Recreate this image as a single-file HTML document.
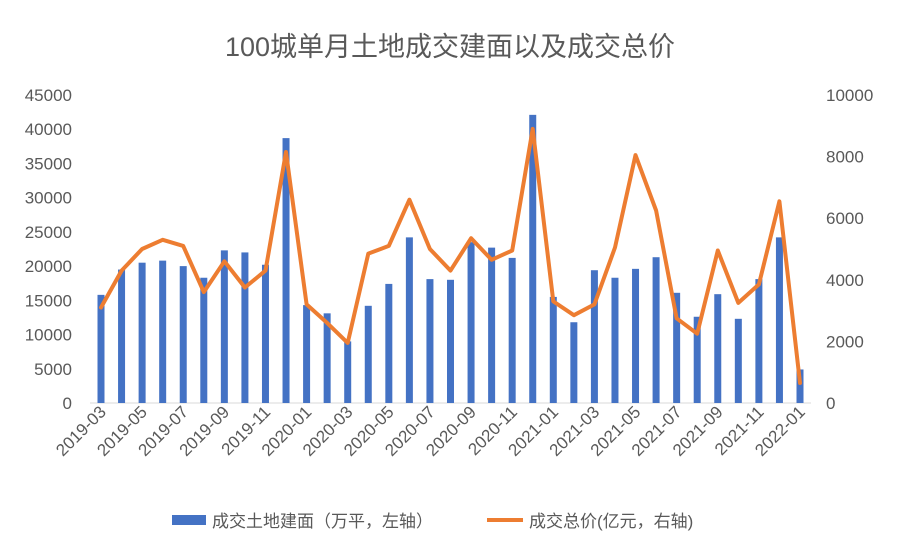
<!DOCTYPE html>
<html><head><meta charset="utf-8"><style>
body{margin:0;background:#fff}
svg{display:block;font-family:"Liberation Sans","Noto Sans CJK SC",sans-serif}
</style></head><body>
<svg id="c" width="900" height="555" xmlns="http://www.w3.org/2000/svg">
<rect width="900" height="555" fill="#fff"/>
<text x="450" y="56" text-anchor="middle" font-size="27" fill="#595959">100城单月土地成交建面以及成交总价</text>
<g id="g"></g>
</svg>
<script>
const bars=[15800,19500,20500,20800,20000,18300,22300,22000,20200,38700,14300,13100,9000,14200,17400,24200,18100,18000,23500,22700,21200,42100,15500,11800,19400,18300,19600,21300,16100,12600,15900,12300,18100,24200,4900];
const line=[3100,4300,5000,5300,5100,3600,4600,3750,4300,8150,3200,2600,1950,4850,5100,6600,5000,4300,5350,4650,4950,8900,3300,2850,3200,5050,8050,6250,2750,2250,4950,3250,3850,6550,650];
const y0=403,h=308,x0=101,dx=(800-101)/34;
let s='';
for(let i=0;i<=9;i++){const v=i*5000,y=y0-v/45000*h;s+=`<text x="72" y="${y+6}" text-anchor="end" font-size="17" fill="#595959">${v}</text>`;}
for(let i=0;i<=5;i++){const v=i*2000,y=y0-v/10000*h;s+=`<text x="826" y="${y+6}" font-size="17" fill="#595959">${v}</text>`;}
s+=`<line x1="90" y1="${y0}" x2="811" y2="${y0}" stroke="#d9d9d9"/>`;
bars.forEach((v,i)=>{const x=x0+i*dx,bh=v/45000*h;s+=`<rect x="${x-3.5}" y="${y0-bh}" width="7" height="${bh}" fill="#4472c4"/>`;});
let p=line.map((v,i)=>`${(x0+i*dx).toFixed(1)},${(y0-v/10000*h).toFixed(1)}`).join(' ');
s+=`<polyline points="${p}" fill="none" stroke="#ed7d31" stroke-width="4" stroke-linejoin="round" stroke-linecap="round"/>`;
const months=[];let y=2019,m=3;for(let i=0;i<35;i++){months.push(`${y}-${String(m).padStart(2,'0')}`);m++;if(m>12){m=1;y++;}}
months.forEach((t,i)=>{if(i%2)return;const x=x0+i*dx+6;s+=`<text x="${x}" y="413" text-anchor="end" font-size="17" fill="#595959" transform="rotate(-45 ${x} 413)">${t}</text>`;});
s+=`<rect x="172" y="515" width="34" height="10" fill="#4472c4"/><text x="212" y="527" font-size="17" fill="#595959">成交土地建面（万平，左轴）</text>`;
s+=`<line x1="487" y1="520" x2="523" y2="520" stroke="#ed7d31" stroke-width="4"/><text x="529" y="527" font-size="17" fill="#595959">成交总价(亿元，右轴)</text>`;
document.getElementById('g').innerHTML=s;
</script>
</body></html>
